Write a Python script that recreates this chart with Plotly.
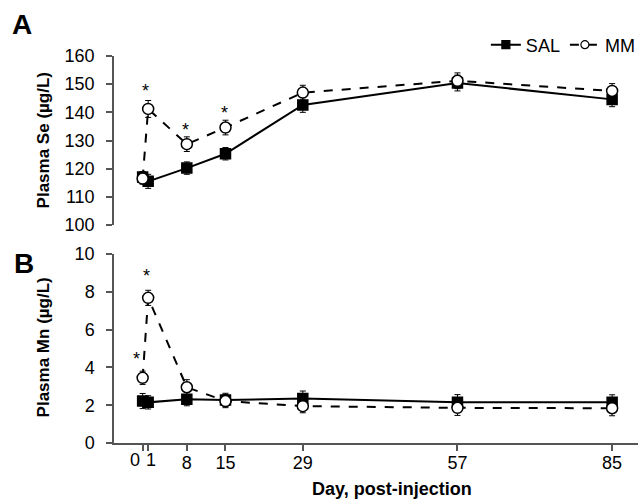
import plotly.graph_objects as go

days = [0, 1, 8, 15, 29, 57, 85]
tick_text = ["", "", "8", "15", "29", "57", "85"]
close_ticks = [0, 1]
close_text = ["0", "1"]

sal_se = [117.0, 115.5, 120.2, 125.3, 142.6, 150.4, 144.6]
sal_se_err = [2.0, 2.5, 2.2, 2.2, 2.6, 2.8, 2.6]
mm_se = [116.5, 141.2, 128.7, 134.6, 147.0, 151.2, 147.6]
mm_se_err = [2.0, 3.0, 2.6, 2.6, 2.6, 2.8, 2.6]

sal_mn = [2.22, 2.15, 2.32, 2.28, 2.35, 2.16, 2.15]
sal_mn_err = [0.4, 0.35, 0.35, 0.35, 0.4, 0.4, 0.4]
mm_mn = [3.45, 7.68, 2.95, 2.22, 1.95, 1.86, 1.84]
mm_mn_err = [0.35, 0.4, 0.4, 0.35, 0.35, 0.4, 0.4]

star_se_days = [1, 8, 15]
star_se_y = [148.9, 135.2, 141.1]
star_mn_days = [0, 1]
star_mn_y = [4.65, 9.03]

FONT = "Liberation Sans, Arial, sans-serif"
AX = "#555555"
W, H = 641, 502
L = 114

fig = go.Figure()

def add_series(x, y, err, yaxis, name, filled):
    fig.add_trace(go.Scatter(
        x=x, y=y, xaxis="x2" if yaxis == "y2" else "x", yaxis=yaxis,
        name=name, showlegend=False, mode="lines+markers",
        line=dict(color="black", width=2, dash="solid" if filled else "dash"),
        marker=dict(symbol="square" if filled else "circle", size=10 if filled else 11,
                    color="black" if filled else "white",
                    line=dict(color="black", width=1.5)),
        error_y=dict(type="data", array=err, visible=True, color="black",
                     thickness=1, width=3),
    ))

add_series(days, sal_se, sal_se_err, "y2", "SAL", True)
add_series(days, mm_se, mm_se_err, "y2", "MM", False)
add_series(days, sal_mn, sal_mn_err, "y", "SAL", True)
add_series(days, mm_mn, mm_mn_err, "y", "MM", False)

# legend entries (smaller symbols, as in the reference legend)
for name, filled in [("SAL", True), ("MM", False)]:
    fig.add_trace(go.Scatter(
        x=[None], y=[None], name=name, mode="lines+markers", showlegend=True,
        line=dict(color="black", width=2, dash="solid" if filled else "dash"),
        marker=dict(symbol="square" if filled else "circle", size=8,
                    color="black" if filled else "white",
                    line=dict(color="black", width=1.2)),
    ))

annotations = []
for d, v in zip(star_se_days, star_se_y):
    annotations.append(dict(x=d, y=v, xref="x2", yref="y2", text="*", showarrow=False,
                            font=dict(size=18, color="black", family=FONT),
                            yanchor="middle", yshift=-4, xshift=-3 if d == 1 else -1))
for d, v in zip(star_mn_days, star_mn_y):
    annotations.append(dict(x=d, y=v, xref="x", yref="y", text="*", showarrow=False,
                            font=dict(size=18, color="black", family=FONT),
                            yanchor="middle", yshift=-4, xshift=-6 if d == 0 else -2))

# tick labels for the two close ticks, offset so they don't collide
for d, t, sh in zip(close_ticks, close_text, [-8, 3]):
    annotations.append(dict(x=d, y=1 - 460 / H, xref="x", yref="paper", text=t,
                            showarrow=False, xshift=sh, xanchor="center", yanchor="middle",
                            font=dict(size=18, color="black", family=FONT)))

paper_texts = [
    (21, 25, "<b>A</b>", 28, 0),
    (23, 263, "<b>B</b>", 28, 0),
    (43, 140, "<b>Plasma Se (µg/L)</b>", 17, -90),
    (43, 347, "<b>Plasma Mn (µg/L)</b>", 17, -90),
    (394, 489, "<b>Day, post-injection</b>", 18, 0),
]
for px, py, t, s, ang in paper_texts:
    annotations.append(dict(x=(px - L) / (W - L), y=1 - py / H, xref="paper", yref="paper",
                            text=t, textangle=ang, showarrow=False, xanchor="center",
                            yanchor="middle", font=dict(size=s, color="black", family=FONT)))

xr = [(114 - 142.8) / 5.555, (641 - 142.8) / 5.555]

axis_common = dict(showgrid=False, zeroline=False, showline=True, linecolor=AX, linewidth=1.5,
                   ticks="outside", ticklen=6, tickwidth=1.5, tickcolor=AX,
                   tickfont=dict(size=18, color="black", family=FONT))

fig.update_layout(
    width=W, height=H,
    margin=dict(l=L, r=0, t=0, b=0),
    paper_bgcolor="white", plot_bgcolor="white",
    font=dict(family=FONT, color="black"),
    xaxis=dict(domain=[0, 1], anchor="y", range=xr, tickmode="array", tickvals=days,
               ticktext=tick_text, tickangle=0, automargin=False, ticklabelstandoff=-3,
               **axis_common),
    yaxis=dict(domain=[1 - 443 / H, 1 - 254 / H], anchor="x", range=[0, 10],
               tickvals=[0, 2, 4, 6, 8, 10], ticktext=["0", "2", "4", "6", "8", "10"],
               automargin=False, ticklabelstandoff=8, ticklabelposition="outside",
               **axis_common),
    xaxis2=dict(domain=[0, 1], anchor="y2", range=xr, matches="x", visible=False),
    yaxis2=dict(domain=[1 - 225 / H, 1 - 56 / H], anchor="x2", range=[100, 160],
                tickvals=[100, 110, 120, 130, 140, 150, 160], automargin=False,
                ticklabelstandoff=8, ticklabelposition="outside", **axis_common),
    showlegend=True,
    legend=dict(orientation="h", x=(488 - L) / (W - L), y=1 - 45 / H, xanchor="left",
                yanchor="middle", font=dict(size=18, color="black", family=FONT),
                bgcolor="rgba(0,0,0,0)", itemwidth=30, tracegroupgap=0, traceorder="normal"),
    annotations=annotations,
)

fig.write_html("out.html")
